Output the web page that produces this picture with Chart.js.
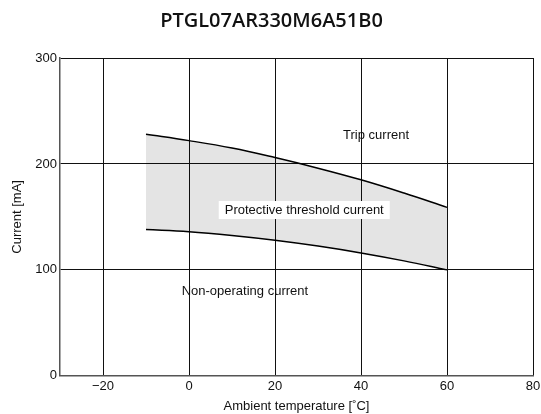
<!DOCTYPE html>
<html>
<head>
<meta charset="utf-8">
<script src="https://cdn.jsdelivr.net/npm/chart.js@4.4.1/dist/chart.umd.min.js"></script>
<style>
  html, body { margin: 0; padding: 0; background: #fff; }
</style>
</head>
<body>
<canvas id="chart" width="541" height="414"></canvas>
<script>
// values
const temps = [-10, 0, 10, 20, 30, 40, 50, 60];
const tripCurrent = [228, 222, 215, 206, 196, 185, 172.5, 159];
const nonOperating = [138, 136, 132.5, 128, 122.5, 116, 108.5, 100];
const xTicks = [-20, 0, 20, 40, 60, 80];
const yTicks = [0, 100, 200, 300];

const notes = [
  { text: "Trip current", x: 43.5, y: 227, box: false },
  { text: "Protective threshold current", x: 26.8, y: 156.5, box: true },
  { text: "Non-operating current", x: 13, y: 80, box: false }
];

const toPoints = (ys) => temps.map((t, i) => ({ x: t, y: ys[i] }));
const font13 = { family: "'Liberation Sans', Arial, sans-serif", size: 13 };

const notesPlugin = {
  id: "notes",
  afterDatasetsDraw(chart) {
    const { ctx, scales } = chart;
    ctx.save();
    ctx.font = "13px 'Liberation Sans', Arial, sans-serif";
    ctx.textAlign = "center";
    ctx.textBaseline = "middle";
    notes.forEach(n => {
      const px = scales.x.getPixelForValue(n.x);
      const py = scales.y.getPixelForValue(n.y);
      if (n.box) {
        const w = ctx.measureText(n.text).width + 12;
        ctx.fillStyle = "#fff";
        ctx.fillRect(px - w / 2, py - 9, w, 18);
      }
      ctx.fillStyle = "#111";
      ctx.fillText(n.text, px, py);
    });
    ctx.restore();
  }
};

new Chart(document.getElementById("chart"), {
  type: "line",
  data: {
    datasets: [
      {
        label: "Trip current",
        data: toPoints(tripCurrent),
        borderColor: "#000",
        borderWidth: 1.5,
        pointRadius: 0,
        tension: 0.4,
        fill: false
      },
      {
        label: "Non-operating current",
        data: toPoints(nonOperating),
        borderColor: "#000",
        borderWidth: 1.5,
        pointRadius: 0,
        tension: 0.4,
        backgroundColor: "rgba(0,0,0,0.105)",
        fill: 0
      }
    ]
  },
  options: {
    responsive: false,
    animation: false,
    layout: { padding: { left: 10, right: 8, top: 0, bottom: 0 } },
    plugins: {
      legend: { display: false },
      tooltip: { enabled: false },
      title: {
        display: true,
        text: "PTGL07AR330M6A51B0",
        color: "#111",
        font: { family: "'Open Sans', sans-serif", size: 20, weight: "600" },
        padding: { top: 9, bottom: 25 }
      }
    },
    scales: {
      x: {
        type: "linear",
        min: -30,
        max: 80,
        afterBuildTicks(scale) { scale.ticks = xTicks.map(v => ({ value: v })); },
        afterFit(scale) { scale.paddingRight = 0; scale.paddingLeft = 0; },
        ticks: {
          color: "#111",
          font: font13,
          padding: 3,
          callback: v => (v < 0 ? "\u2212" + Math.abs(v) : v)
        },
        grid: { color: "#111", lineWidth: 1, drawTicks: false },
        border: { color: "#555", width: 1.5 },
        title: {
          display: true,
          text: "Ambient temperature [\u02daC]",
          color: "#111",
          font: font13,
          padding: { top: 1, bottom: 0 }
        }
      },
      y: {
        min: 0,
        max: 300,
        afterBuildTicks(scale) { scale.ticks = yTicks.map(v => ({ value: v })); },
        afterFit(scale) { scale.width = 50; },
        ticks: {
          color: "#111",
          font: font13,
          padding: 3
        },
        grid: { color: "#111", lineWidth: 1, drawTicks: false },
        border: { color: "#555", width: 1.5 },
        title: {
          display: true,
          text: "Current [mA]",
          color: "#111",
          font: font13,
          padding: { top: 0, bottom: 4 }
        }
      }
    }
  },
  plugins: [notesPlugin]
});
</script>
</body>
</html>
